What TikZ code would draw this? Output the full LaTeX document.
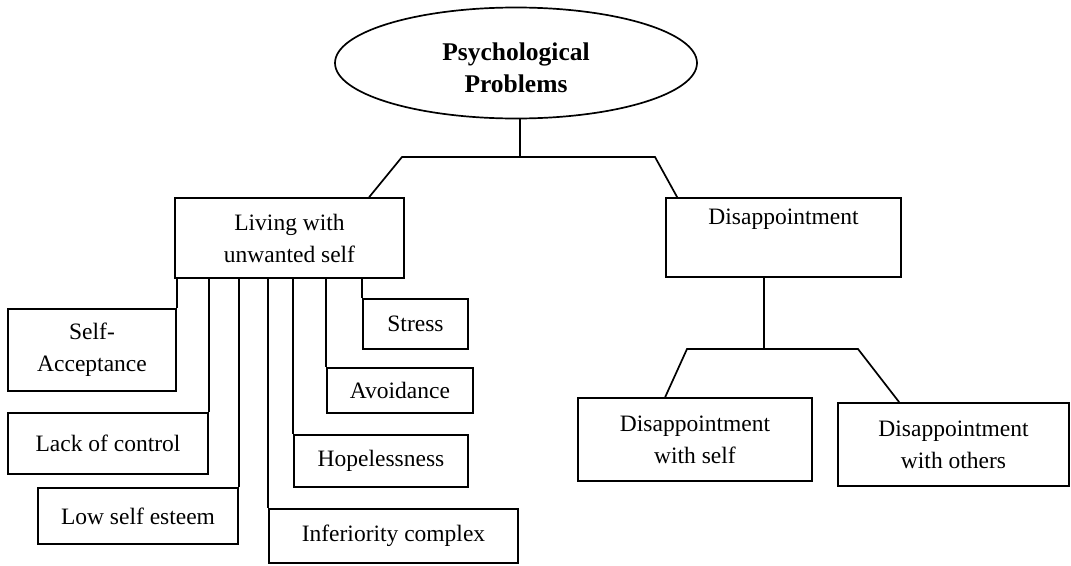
\documentclass[tikz,border=0pt]{standalone}
\usepackage{fontspec}
\setmainfont{Liberation Serif}
\usetikzlibrary{shapes.geometric}
\tikzset{
  box/.style={draw, line width=1.7pt, rectangle, align=center, inner sep=0pt,
    font=\fontsize{23.5}{32}\selectfont},
  link/.style={line width=1.7pt}
}
\begin{document}
\begin{tikzpicture}[x=1pt,y=-1pt]
\useasboundingbox (0,0) rectangle (1071,565);
\node[draw, ellipse, line width=1.7pt, minimum width=362, minimum height=111, inner sep=0pt, align=center,
  font=\fontsize{25.5}{32}\selectfont\bfseries] (root) at (516,63) {\rule{0pt}{28pt}Psychological\\Problems};
\node[box, minimum width=229, minimum height=80] (live) at (289.5,238) {Living with\\unwanted self};
\node[box, minimum width=235, minimum height=79] (dis) at (783.5,237.5) {Disappointment\\\strut};
\node[box, minimum width=168, minimum height=82] (sa) at (92,350) {Self-\\Acceptance};
\node[box, minimum width=200, minimum height=61] (lc) at (108,443.5) {Lack of control};
\node[box, minimum width=200, minimum height=56] (ls) at (138,516) {Low self esteem};
\node[box, minimum width=249, minimum height=54] (ic) at (393.5,536) {Inferiority complex};
\node[box, minimum width=174, minimum height=52] (hp) at (381,461) {Hopelessness};
\node[box, minimum width=146, minimum height=45] (av) at (400,390.5) {Avoidance};
\node[box, minimum width=105, minimum height=50] (st) at (415.5,324) {Stress};
\node[box, minimum width=234, minimum height=83] (ds) at (695,439.5) {Disappointment\\with self};
\node[box, minimum width=231, minimum height=83] (dwo) at (953.5,444.5) {Disappointment\\with others};
% top junction
\coordinate (jm) at (520,157);
\coordinate (jl) at (402,157);
\coordinate (jr) at (655,157);
\draw[link] (jm |- root.south) -- (jm);
\draw[link] ([xshift=195pt]live.north west) -- (jl) -- (jr) -- ([xshift=12pt]dis.north west);
% left children
\draw[link] (sa.north east |- live.south) -- (sa.north east);
\draw[link] (lc.north east |- live.south) -- (lc.north east);
\draw[link] (ls.north east |- live.south) -- (ls.north east);
\draw[link] (ic.north west |- live.south) -- (ic.north west);
\draw[link] (hp.north west |- live.south) -- (hp.north west);
\draw[link] (av.north west |- live.south) -- (av.north west);
\draw[link] (st.north west |- live.south) -- (st.north west);
% right children
\coordinate (km) at (764,349);
\coordinate (kl) at (687,349);
\coordinate (kr) at (858,349);
\draw[link] (km |- dis.south) -- (km);
\draw[link] ([xshift=88pt]ds.north west) -- (kl) -- (kr) -- ([xshift=62pt]dwo.north west);
\end{tikzpicture}
\end{document}
